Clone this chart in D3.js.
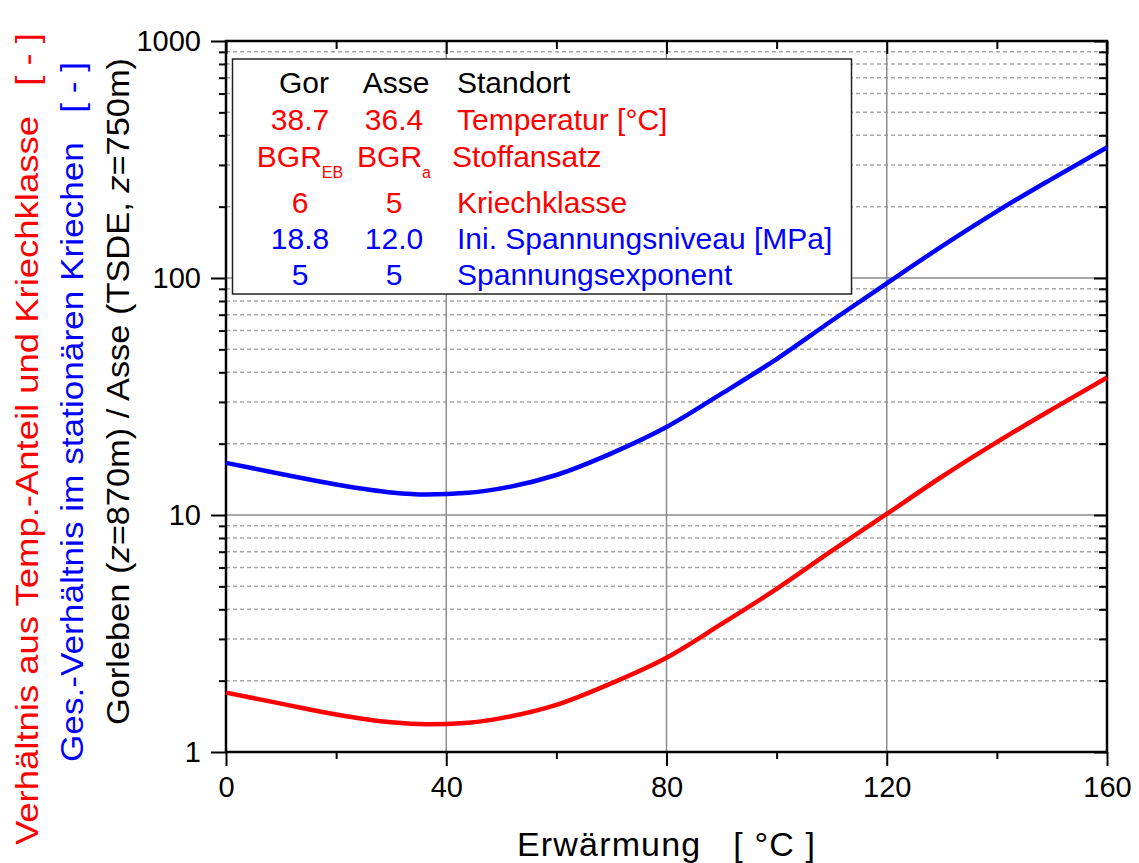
<!DOCTYPE html>
<html><head><meta charset="utf-8">
<script src="https://cdn.jsdelivr.net/npm/d3@7"></script>
<style>body{margin:0;background:#fff;} text{font-family:Arial,"Liberation Sans",sans-serif; white-space:pre;}</style>
</head><body><svg id="c" width="1139" height="863"></svg>
<script>
// ---- data ----
const xValues    = [0, 10, 20, 30, 36.4, 44, 50, 60, 70, 80, 90, 100, 110, 120, 130, 140, 150, 160];
const blueValues = [16.6, 14.9, 13.45, 12.45, 12.2, 12.4, 12.95, 14.75, 18.2, 23.5, 32.5, 45.5, 66, 95, 136, 191, 262, 356];
const redValues  = [1.78, 1.60, 1.44, 1.335, 1.31, 1.33, 1.39, 1.58, 1.95, 2.5, 3.47, 4.88, 7.05, 10.1, 14.5, 20.3, 27.9, 38.0];
const xTicks = [0, 40, 80, 120, 160];
const xMinorTicks = [20, 60, 100, 140];
const xGrid = [40, 80, 120];
const yTicks = [1, 10, 100, 1000];
const yGrid = [10, 100];
const legendHeader = ["Gor", "Asse", "Standort"];
const legendGor   = ["38.7", "BGR|EB", "6", "18.8", "5"];
const legendAsse  = ["36.4", "BGR|a", "5", "12.0", "5"];
const legendLabel = ["Temperatur [°C]", "Stoffansatz", "Kriechklasse", "Ini. Spannungsniveau [MPa]", "Spannungsexponent"];
const legendColor = ["#ff0000", "#ff0000", "#ff0000", "#0000ff", "#0000ff"];
const xTitle = "Erwärmung   [ °C ]";
const yTitleRed = "Verhältnis aus Temp.-Anteil und Kriechklasse   [ - ]";
const yTitleBlue = "Ges.-Verhältnis im stationären Kriechen   [ - ]";

// ---- layout ----
const svg = d3.select("#c");
const L = 226, R = 1107, T = 41, B = 752;
const x = d3.scaleLinear().domain([0, 160]).range([L, R]);
const y = d3.scaleLog().domain([1, 1000]).range([B, T]);
const minorY = [];
[1, 10, 100].forEach(d => { for (let k = 2; k <= 9; k++) minorY.push(d * k); });

// minor dashed grid
svg.append("g").selectAll("line").data(minorY).join("line")
  .attr("x1", L).attr("x2", R).attr("y1", d => y(d)).attr("y2", d => y(d))
  .attr("stroke", "#a8a8a8").attr("stroke-width", 1.5).attr("stroke-dasharray", "4,3");
// major grid
svg.append("g").selectAll("line").data(yGrid).join("line")
  .attr("x1", L).attr("x2", R).attr("y1", d => y(d)).attr("y2", d => y(d))
  .attr("stroke", "#8c8c8c").attr("stroke-width", 1.5);
svg.append("g").selectAll("line").data(xGrid).join("line")
  .attr("y1", T).attr("y2", B).attr("x1", d => x(d)).attr("x2", d => x(d))
  .attr("stroke", "#8c8c8c").attr("stroke-width", 1.5);

// axes
function styleAxis(g) { g.select(".domain").remove(); g.selectAll("line").attr("stroke", "#000").attr("stroke-width", 2); }
const axB = svg.append("g").attr("transform", `translate(0,${B})`)
  .call(d3.axisBottom(x).tickValues(xTicks).tickSize(14).tickPadding(10).tickFormat(d3.format("d")));
styleAxis(axB); axB.selectAll("text").attr("font-size", 29).attr("fill", "#000").attr("font-family", "Arial, Liberation Sans");
svg.append("g").attr("transform", `translate(0,${B})`)
  .call(d3.axisBottom(x).tickValues(xMinorTicks).tickSize(7).tickFormat("")).call(styleAxis);
const axL = svg.append("g").attr("transform", `translate(${L},0)`)
  .call(d3.axisLeft(y).tickValues(yTicks).tickSize(15).tickPadding(10).tickFormat(d3.format("d")));
styleAxis(axL); axL.selectAll("text").attr("font-size", 29).attr("fill", "#000").attr("font-family", "Arial, Liberation Sans");
svg.append("g").attr("transform", `translate(${L},0)`)
  .call(d3.axisLeft(y).tickValues(minorY).tickSize(7).tickFormat("")).call(styleAxis);
// top & right (inward ticks)
svg.append("g").attr("transform", `translate(0,${T})`)
  .call(d3.axisTop(x).tickValues(xTicks).tickSize(-13).tickFormat("")).call(styleAxis);
svg.append("g").attr("transform", `translate(0,${T})`)
  .call(d3.axisTop(x).tickValues(xMinorTicks).tickSize(-8).tickFormat("")).call(styleAxis);
svg.append("g").attr("transform", `translate(${R},0)`)
  .call(d3.axisRight(y).tickValues(yTicks).tickSize(-13).tickFormat("")).call(styleAxis);
svg.append("g").attr("transform", `translate(${R},0)`)
  .call(d3.axisRight(y).tickValues(minorY).tickSize(-8).tickFormat("")).call(styleAxis);
// frame
svg.append("rect").attr("x", L).attr("y", T).attr("width", R - L).attr("height", B - T)
  .attr("fill", "none").attr("stroke", "#000").attr("stroke-width", 2.5);

// curves
const line = d3.line().x((d, i) => x(xValues[i])).y(d => y(d)).curve(d3.curveMonotoneX);
svg.append("path").attr("d", line(redValues)).attr("fill", "none").attr("stroke", "#ff0000").attr("stroke-width", 4.5);
svg.append("path").attr("d", line(blueValues)).attr("fill", "none").attr("stroke", "#0000ff").attr("stroke-width", 4.5);

// legend box
svg.append("rect").attr("x", 232.5).attr("y", 59).attr("width", 619).attr("height", 235)
  .attr("fill", "#fff").attr("stroke", "#222").attr("stroke-width", 1.5);
const lg = svg.append("g").attr("font-size", 30);
const colGor = 300, colAsse = 394, colLab = 457;
const rowY = [130, 167, 212.5, 248.5, 285];
lg.append("text").attr("x", colGor + 4).attr("y", 93).attr("text-anchor", "middle").text(legendHeader[0]);
lg.append("text").attr("x", colAsse + 2).attr("y", 93).attr("text-anchor", "middle").text(legendHeader[1]);
lg.append("text").attr("x", colLab).attr("y", 93).text(legendHeader[2]);
function cell(txt, cx, cy, col) {
  const t = lg.append("text").attr("x", cx).attr("y", cy).attr("text-anchor", "middle").attr("fill", col);
  const p = txt.split("|");
  t.append("tspan").text(p[0]);
  if (p[1]) t.append("tspan").attr("font-size", 16).attr("dy", 11).text(p[1]);
}
legendGor.forEach((d, i) => cell(d, colGor, rowY[i], legendColor[i]));
legendAsse.forEach((d, i) => cell(d, colAsse, rowY[i], legendColor[i]));
legendLabel.forEach((d, i) => lg.append("text").attr("x", i === 1 ? 452 : colLab).attr("y", rowY[i]).attr("fill", legendColor[i]).text(d));

// titles
svg.append("text").attr("x", 517).attr("y", 856).attr("font-size", 34)
  .attr("textLength", 298).attr("lengthAdjust", "spacing").text(xTitle);
function yTitle(cx, bottom, len, col) {
  return svg.append("text").attr("transform", `translate(${cx},${bottom}) rotate(-90)`)
    .attr("fill", col).attr("font-size", 31).attr("textLength", len).attr("lengthAdjust", "spacingAndGlyphs");
}
yTitle(38, 845, 812, "#ff0000").text(yTitleRed);
yTitle(83, 762, 700, "#0000ff").text(yTitleBlue);
const tb = yTitle(129, 725, 667, "#000");
tb.append("tspan").text("Gorleben (");
tb.append("tspan").attr("font-style", "italic").text("z");
tb.append("tspan").text("=870m) / Asse (TSDE, ");
tb.append("tspan").attr("font-style", "italic").text("z");
tb.append("tspan").text("=750m)");
</script></body></html>
